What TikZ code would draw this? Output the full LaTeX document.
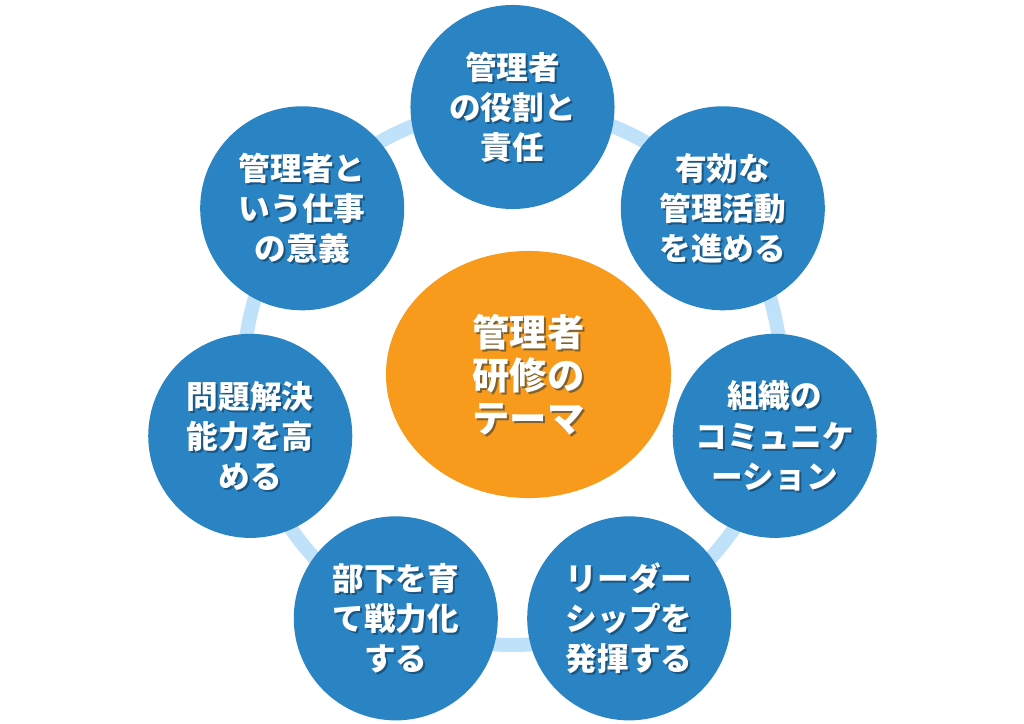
\documentclass[tikz,border=0pt]{standalone}
\usepackage{fontspec}
\newfontfamily\jpfont{Noto Sans CJK JP}
\usepackage{tikz}
\usetikzlibrary{shapes.geometric}
\definecolor{ThemeBlue}{HTML}{2A84C4}
\definecolor{ThemeRing}{HTML}{C0E1FA}
\definecolor{ThemeOrange}{HTML}{F89A1C}
\definecolor{ThemeShadow}{HTML}{0B2A40}

\begin{document}
\begin{tikzpicture}[x=0.025cm,y=0.025cm,
    bubble/.style={circle,fill=ThemeBlue,minimum size=5.1cm,inner sep=0pt},
    caption/.style={text=white,align=center,inner sep=0pt,
      font=\jpfont\bfseries\fontsize{22.5}{28.5}\selectfont},
    captionshade/.style={caption,text=ThemeShadow,opacity=0.5},
    corecaption/.style={font=\jpfont\bfseries\fontsize{26.5}{30.5}\selectfont}]
      \useasboundingbox (-512.5,-347) rectangle (511.5,376);
      \draw[ThemeRing,line width=0.35cm] (0,0) circle (269);
      \node[ellipse,fill=ThemeOrange,minimum width=7.125cm,minimum height=6.175cm,inner sep=0pt] (core) at (16,1.5) {};
      \node[captionshade,corecaption] (core s) at ([shift={(1.4pt,-1.4pt)}]core.center) {管理者\\研修の\\テーマ};
      \node[caption,corecaption] (core t) at (core.center) {管理者\\研修の\\テーマ};
      \foreach \k/\lbl in {0/{管理者\\の役割と\\責任},1/{有効な\\管理活動\\を進める},
          2/{組織の\\コミュニケ\\ーション},3/{リーダー\\シップを\\発揮する},
          4/{部下を育\\て戦力化\\する},5/{問題解決\\能力を高\\める},6/{管理者と\\いう仕事\\の意義}}{
        \pgfmathsetmacro{\ang}{90-\k*360/7}
        \node[bubble] (topic\k) at (\ang:269) {};
        \node[captionshade] (topic\k s) at ([shift={(1.4pt,-1.4pt)}]topic\k.center) {\lbl};
        \node[caption] (topic\k t) at (topic\k.center) {\lbl};
      }
    \end{tikzpicture}
\end{document}
